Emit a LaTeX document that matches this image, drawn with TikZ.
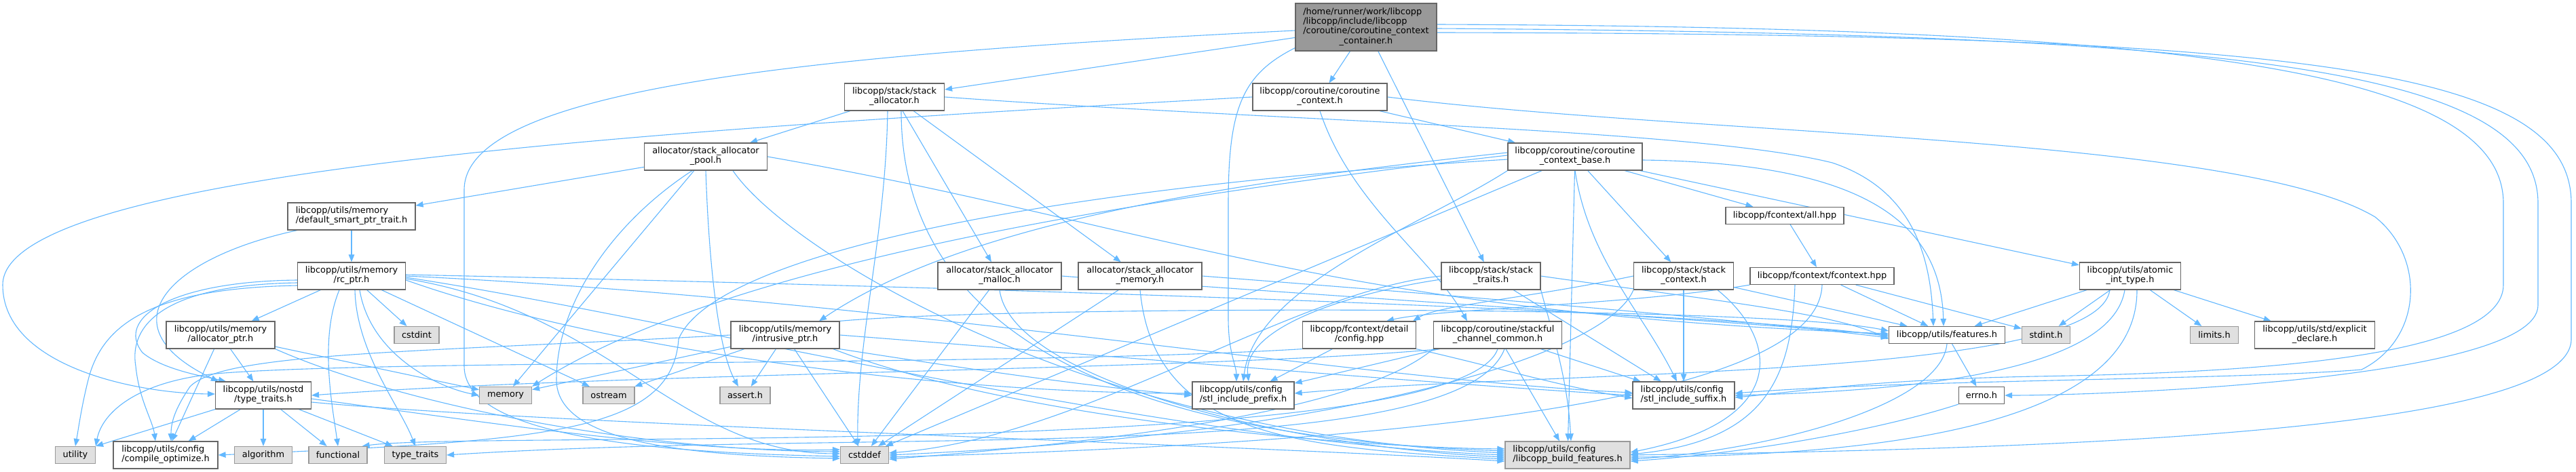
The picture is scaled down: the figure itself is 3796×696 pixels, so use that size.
\documentclass[tikz,border=0pt]{standalone}
\usepackage{fontspec}
\newfontfamily\dvsans{DejaVu Sans}
\usetikzlibrary{arrows.meta,calc}
\pgfdeclarelayer{bglayer}
\pgfdeclarelayer{edgelayer}
\pgfsetlayers{bglayer,edgelayer,main}
\definecolor{edgec}{HTML}{63B8FF}
\definecolor{nodeb}{HTML}{666666}
\definecolor{sysb}{HTML}{999999}
\definecolor{sysf}{HTML}{E0E0E0}
\definecolor{mainf}{HTML}{999999}
\newcommand\nodefont{\dvsans\fontsize{12.9}{14.2}\selectfont}
\newcommand\twoline[2]{\begin{tabular}{@{}l@{}}#1\\\multicolumn{1}{@{}c@{}}{#2}\end{tabular}}
\begin{document}
\begin{tikzpicture}[x=1pt,y=-1pt,
  fnode/.style={draw=nodeb, fill=white, line width=1.2pt, inner sep=0pt, minimum height=40pt, font=\nodefont},
  snode/.style={draw=sysb, fill=sysf, line width=1.2pt, inner sep=0pt, minimum height=40pt, font=\nodefont},
  onel/.style={minimum height=25pt},
  dep/.style={draw=edgec, line width=1.1pt, -{Triangle[length=11pt,width=8.5pt]}}]
\useasboundingbox (0,0) rectangle (3796,696);
\begin{pgfonlayer}{bglayer}
\fill[white] (0,0) rectangle (3796,696);
\end{pgfonlayer}
% rank 0
\node[fnode, fill=mainf, minimum width=208pt, minimum height=70pt] (main) at (2013,40)
  {\begin{tabular}{@{}l@{}}/home/runner/work/libcopp\\/libcopp/include/libcopp\\/coroutine/coroutine\_context\\\multicolumn{1}{@{}c@{}}{\_container.h}\end{tabular}};
% rank 1
\node[fnode, minimum width=147pt] (sa) at (1318,143) {\twoline{libcopp/stack/stack}{\_allocator.h}};
\node[fnode, minimum width=198pt] (cc) at (1945,143) {\twoline{libcopp/coroutine/coroutine}{\_context.h}};
% rank 2
\node[fnode, minimum width=181pt] (pool) at (1040,231) {\twoline{allocator/stack\_allocator}{\_pool.h}};
\node[fnode, minimum width=198pt] (cb) at (2321,231) {\twoline{libcopp/coroutine/coroutine}{\_context\_base.h}};
% rank 3
\node[fnode, minimum width=188pt] (dsp) at (518,319) {\twoline{libcopp/utils/memory}{/default\_smart\_ptr\_trait.h}};
\node[fnode, onel, minimum width=174pt] (fall) at (2630,318) {libcopp/fcontext/all.hpp};
% rank 4
\node[fnode, minimum width=159pt] (rc) at (518,407) {\twoline{libcopp/utils/memory}{/rc\_ptr.h}};
\node[fnode, minimum width=182pt] (mal) at (1473,407) {\twoline{allocator/stack\_allocator}{\_malloc.h}};
\node[fnode, minimum width=182pt] (mem) at (1680,407) {\twoline{allocator/stack\_allocator}{\_memory.h}};
\node[fnode, minimum width=146pt] (st) at (2197,407) {\twoline{libcopp/stack/stack}{\_traits.h}};
\node[fnode, minimum width=147pt] (sc) at (2481,407) {\twoline{libcopp/stack/stack}{\_context.h}};
\node[fnode, onel, minimum width=212pt] (fc) at (2685,407) {libcopp/fcontext/fcontext.hpp};
\node[fnode, minimum width=149pt] (at) at (3139,407) {\twoline{libcopp/utils/atomic}{\_int\_type.h}};
% rank 5
\node[fnode, minimum width=160pt] (ap) at (325,494) {\twoline{libcopp/utils/memory}{/allocator\_ptr.h}};
\node[snode, onel, minimum width=66pt] (cstdint) at (614,494) {cstdint};
\node[fnode, minimum width=160pt] (ip) at (1157,494) {\twoline{libcopp/utils/memory}{/intrusive\_ptr.h}};
\node[fnode, minimum width=167pt] (dc) at (2003,494) {\twoline{libcopp/fcontext/detail}{/config.hpp}};
\node[fnode, minimum width=189pt] (ch) at (2207,494) {\twoline{libcopp/coroutine/stackful}{\_channel\_common.h}};
\node[fnode, onel, minimum width=171pt] (feat) at (2869,494) {libcopp/utils/features.h};
\node[snode, onel, minimum width=71pt] (stdint) at (3015,494) {stdint.h};
\node[snode, onel, minimum width=71pt] (limits) at (3263,494) {limits.h};
\node[fnode, minimum width=177pt] (expl) at (3411,494) {\twoline{libcopp/utils/std/explicit}{\_declare.h}};
% rank 6
\node[fnode, minimum width=141pt] (nt) at (388,583) {\twoline{libcopp/utils/nostd}{/type\_traits.h}};
\node[snode, onel, minimum width=77pt] (memory) at (745,583) {memory};
\node[snode, onel, minimum width=76pt] (ostream) at (897,583) {ostream};
\node[snode, onel, minimum width=74pt] (assert) at (1098,583) {assert.h};
\node[fnode, minimum width=150pt] (pre) at (1832,583) {\twoline{libcopp/utils/config}{/stl\_include\_prefix.h}};
\node[fnode, minimum width=150pt] (suf) at (2481,583) {\twoline{libcopp/utils/config}{/stl\_include\_suffix.h}};
\node[fnode, onel, minimum width=67pt] (errno) at (2920,583) {errno.h};
% rank 7
\node[snode, onel, minimum width=59pt] (util) at (111,671) {utility};
\node[fnode, minimum width=154pt] (co) at (244,671) {\twoline{libcopp/utils/config}{/compile\_optimize.h}};
\node[snode, onel, minimum width=85pt] (algo) at (388,671) {algorithm};
\node[snode, onel, minimum width=86pt] (func) at (498,671) {functional};
\node[snode, onel, minimum width=91pt] (tt) at (612,671) {type\_traits};
\node[snode, onel, minimum width=71pt] (cstddef) at (1274,671) {cstddef};
\node[snode, minimum width=184pt] (bf) at (2310,671) {\twoline{libcopp/utils/config}{/libcopp\_build\_features.h}};

\begin{pgfonlayer}{edgelayer}
% main
\draw[dep] (main) -- (sa);
\draw[dep] (main) -- (cc);
\draw[dep] (main) -- (st);
\draw[dep] ($(main.south west)+(0,-5)$) .. controls (1830,110) and (1810,160) .. (1810,300) -- (1810,470) .. controls (1810,520) and (1822,540) .. ($(pre.north)+(-10,0)$);
\draw[dep] ($(main.west)+(0,5)$) .. controls (1200,80) and (684,130) .. (684,280) -- (684,540) .. controls (684,650) and (1000,668) .. ($(cstddef.west)+(0,2)$);
\draw[dep] ($(main.east)+(0,-4)$) .. controls (3200,40) and (3689,100) .. (3689,300) -- (3689,420) .. controls (3689,530) and (3300,550) .. (3000,555) .. controls (2750,560) and (2650,578) .. ($(suf.east)+(0,3)$);
\draw[dep] ($(main.east)+(0,2)$) .. controls (3300,50) and (3740,100) .. (3740,300) -- (3740,450) .. controls (3740,560) and (3100,583) .. (errno.east);
\draw[dep] ($(main.east)+(0,8)$) .. controls (3400,50) and (3789,100) .. (3789,300) -- (3789,500) .. controls (3789,640) and (3000,662) .. (bf.east);
% stack_allocator.h
\draw[dep] (sa) -- (pool);
\draw[dep] (sa) -- (mal);
\draw[dep] (sa) -- (mem);
\draw[dep] (sa.east) .. controls (1900,180) and (2500,190) .. (2700,240) .. controls (2820,280) and (2845,380) .. ($(feat.north)+(-20,0)$);
\draw[dep] ($(sa.south)+(-10,0)$) .. controls (1305,350) and (1262,500) .. ($(cstddef.north)+(-10,0)$);
\draw[dep] ($(sa.south)+(10,0)$) .. controls (1328,560) and (1800,650) .. ($(bf.west)+(0,-6)$);
% coroutine_context.h
\draw[dep] (cc) -- (cb);
\draw[dep] (cc.south) .. controls (1990,300) and (2110,380) .. ($(ch.north)+(-45,0)$);
\draw[dep] (cc.west) .. controls (1000,190) and (4,250) .. (4,420) .. controls (4,540) and (200,580) .. ($(nt.west)+(0,-2)$);
\draw[dep] (cc.east) .. controls (2500,200) and (3300,200) .. (3500,320) .. controls (3575,380) and (3570,500) .. (3480,545) .. controls (3300,560) and (2800,560) .. ($(suf.east)+(0,-3)$);
% pool
\draw[dep] (pool) -- (dsp);
\draw[dep] (pool) -- (memory);
\draw[dep] ($(pool.south)+(-20,0)$) .. controls (900,330) and (820,450) .. (820,560) .. controls (820,650) and (1000,672) .. ($(cstddef.west)+(0,5)$);
\draw[dep] (pool.south) .. controls (1045,400) and (1060,520) .. ($(assert.north)+(-10,0)$);
\draw[dep] ($(pool.south)+(40,0)$) .. controls (1160,370) and (1600,640) .. ($(bf.west)+(0,-3)$);
\draw[dep] (pool.east) .. controls (1700,330) and (1950,460) .. ($(feat.west)+(0,-2)$);
% context_base
\draw[dep] (cb) -- (fall);
\draw[dep] (cb) -- (sc);
\draw[dep] (cb) -- (at);
\draw[dep] ($(cb.west)+(0,-6)$) .. controls (1800,270) and (1420,330) .. ($(ip.north)+(50,0)$);
\draw[dep] ($(cb.east)+(0,5)$) .. controls (2750,240) and (2860,330) .. ($(feat.north)+(-5,0)$);
\draw[dep] (cb) -- (bf);
\draw[dep] (cb.south west) .. controls (2100,330) and (1850,420) .. (pre.north);
\draw[dep] (cb.south) .. controls (2340,380) and (2420,460) .. ($(suf.north)+(-10,0)$);
\draw[dep] ($(cb.west)+(0,-2)$) .. controls (1600,300) and (1050,400) .. (memory.north east);
\draw[dep] (cb) -- (cstddef);
\draw[dep] ($(cb.west)+(0,4)$) .. controls (1500,280) and (1050,380) .. (1000,500) .. controls (990,640) and (800,650) .. (co.east);
% default_smart_ptr_trait
\draw[dep] (dsp) -- (rc);
\draw[dep] ($(dsp.south)+(-80,0)$) .. controls (250,380) and (150,480) .. ($(nt.north west)+(5,0)$);
% fcontext/all.hpp
\draw[dep] (fall) -- (fc);
% rc_ptr
\draw[dep] (rc) -- (ap);
\draw[dep] (rc) -- (cstdint);
\draw[dep] ($(rc.west)+(0,6)$) .. controls (250,415) and (170,470) .. (210,520) .. controls (240,545) and (300,555) .. ($(nt.north)+(-55,0)$);
\draw[dep] ($(rc.west)+(0,10)$) .. controls (240,420) and (190,480) .. (200,540) .. controls (205,590) and (225,620) .. ($(co.north)+(-15,0)$);
\draw[dep] ($(rc.west)+(0,14)$) .. controls (220,425) and (150,480) .. (130,560) .. controls (120,600) and (116,630) .. (util.north);
\draw[dep] ($(rc.south)+(-18,0)$) .. controls (470,500) and (490,600) .. (func.north);
\draw[dep] ($(rc.south)+(5,0)$) .. controls (525,520) and (590,600) .. (tt.north);
\draw[dep] ($(rc.south)+(12,0)$) .. controls (545,520) and (640,570) .. (memory.west);
\draw[dep] (rc) -- (ostream);
\draw[dep] ($(rc.east)+(0,-2)$) .. controls (1300,420) and (2500,455) .. ($(feat.west)+(0,2)$);
\draw[dep] ($(rc.east)+(0,2)$) .. controls (1000,470) and (1700,650) .. (bf.west);
\draw[dep] ($(rc.east)+(0,4)$) .. controls (900,460) and (1000,668) .. ($(cstddef.west)+(0,-2)$);
\draw[dep] ($(rc.east)+(0,6)$) .. controls (900,520) and (1400,580) .. ($(pre.west)+(0,-3)$);
\draw[dep] (rc.east) .. controls (1300,440) and (2000,560) .. ($(suf.west)+(0,-4)$);
% malloc
\draw[dep] (mal) -- (cstddef);
\draw[dep] (mal.south) .. controls (1490,560) and (1900,660) .. ($(bf.west)+(0,3)$);
\draw[dep] (mal.east) .. controls (2000,440) and (2500,470) .. (feat.west);
% memory allocator
\draw[dep] (mem) -- (cstddef);
\draw[dep] (mem.south) .. controls (1700,640) and (1900,660) .. ($(bf.west)+(0,6)$);
\draw[dep] (mem.east) .. controls (2200,440) and (2550,470) .. ($(feat.west)+(0,4)$);
% stack_traits
\draw[dep] ($(st.west)+(0,5)$) .. controls (2000,430) and (1830,480) .. ($(pre.north)+(8,0)$);
\draw[dep] (st) -- (suf);
\draw[dep] (st.south east) .. controls (2290,500) and (2310,560) .. ($(bf.north)+(5,0)$);
\draw[dep] (st.west) .. controls (1900,430) and (1600,645) .. ($(cstddef.east)+(0,-3)$);
\draw[dep] (st.east) .. controls (2500,440) and (2700,460) .. ($(feat.west)+(0,6)$);
% stack_context
\draw[dep] (sc.west) .. controls (2250,440) and (2120,450) .. ($(dc.north east)+(-5,0)$);
\draw[dep] (sc) -- (suf);
\draw[dep] ($(sc.south)+(50,0)$) .. controls (2620,500) and (2640,620) .. ($(bf.east)+(0,-4)$);
\draw[dep] (sc.south west) .. controls (2370,520) and (2000,640) .. (cstddef.east);
\draw[dep] (sc) -- (feat);
% fcontext.hpp
\draw[dep] (fc.south west) .. controls (2400,450) and (2120,455) .. ($(dc.north)+(40,0)$);
\draw[dep] (fc) -- (feat);
\draw[dep] (fc) -- (stdint);
\draw[dep] ($(fc.south)+(-40,0)$) .. controls (2640,560) and (2600,650) .. ($(bf.east)+(0,-1)$);
\draw[dep] (fc.south) .. controls (2680,600) and (2000,655) .. ($(cstddef.east)+(0,3)$);
% atomic_int_type
\draw[dep] (at) -- (feat);
\draw[dep] (at) -- (stdint);
\draw[dep] (at) -- (limits);
\draw[dep] (at) -- (expl);
\draw[dep] ($(at.south)+(-30,0)$) .. controls (3090,560) and (2300,545) .. ($(pre.east)+(0,-3)$);
\draw[dep] ($(at.south)+(-8,0)$) .. controls (3110,560) and (2750,578) .. (suf.east);
\draw[dep] ($(at.south)+(10,0)$) .. controls (3150,620) and (2800,672) .. ($(bf.east)+(0,3)$);
% allocator_ptr
\draw[dep] (ap) -- (nt);
\draw[dep] (ap) -- (co);
\draw[dep] (ap) -- (memory);
\draw[dep] (ap.south east) .. controls (600,600) and (950,665) .. ($(cstddef.west)+(0,-5)$);
% intrusive_ptr
\draw[dep] (ip) -- (memory);
\draw[dep] (ip) -- (ostream);
\draw[dep] (ip) -- (assert);
\draw[dep] (ip) -- (cstddef);
\draw[dep] (ip.west) .. controls (600,520) and (330,520) .. (280,570) .. controls (260,600) and (252,620) .. ($(co.north)+(8,0)$);
\draw[dep] (ip.south east) .. controls (1400,540) and (1600,570) .. (pre.west);
\draw[dep] (ip.east) .. controls (1700,530) and (2100,565) .. (suf.west);
\draw[dep] ($(ip.south east)+(-10,0)$) .. controls (1500,620) and (2000,660) .. ($(bf.west)+(0,-9)$);
\draw[dep] (ip.north east) .. controls (1500,450) and (2600,450) .. ($(feat.west)+(0,-6)$);
% fcontext/detail/config.hpp
\draw[dep] (dc) -- (pre);
\draw[dep] (dc.south east) .. controls (2200,540) and (2300,570) .. ($(suf.west)+(0,4)$);
\draw[dep] (dc.south west) .. controls (1500,540) and (600,530) .. (330,550) .. controls (200,560) and (150,610) .. (util.north east);
% stackful_channel_common
\draw[dep] (ch) -- (pre);
\draw[dep] (ch) -- (suf);
\draw[dep] (ch) -- (bf);
\draw[dep] (ch.south west) .. controls (2000,610) and (1600,655) .. ($(cstddef.east)+(0,6)$);
\draw[dep] ($(ch.south west)+(10,0)$) .. controls (1800,545) and (900,550) .. (nt.east);
\draw[dep] (ch.south) .. controls (2150,680) and (700,635) .. ($(func.north east)+(-8,0)$);
\draw[dep] ($(ch.south)+(10,0)$) .. controls (2150,690) and (1300,630) .. (tt.east);
% nostd/type_traits
\draw[dep] (nt.south west) -- (util.north east);
\draw[dep] (nt) -- (co);
\draw[dep] (nt) -- (algo);
\draw[dep] (nt) -- (func);
\draw[dep] (nt) -- (tt);
\draw[dep] ($(nt.east)+(0,5)$) .. controls (700,620) and (1000,668) .. ($(cstddef.west)+(0,-8)$);
\draw[dep] ($(nt.east)+(0,10)$) .. controls (800,625) and (1800,655) .. ($(bf.west)+(0,9)$);
% features / errno
\draw[dep] (feat) -- (errno);
\draw[dep] (feat.south) .. controls (2860,600) and (2600,665) .. ($(bf.east)+(0,6)$);
\draw[dep] (errno.south west) .. controls (2750,640) and (2550,670) .. ($(bf.east)+(0,9)$);
\end{pgfonlayer}
\end{tikzpicture}
\end{document}
